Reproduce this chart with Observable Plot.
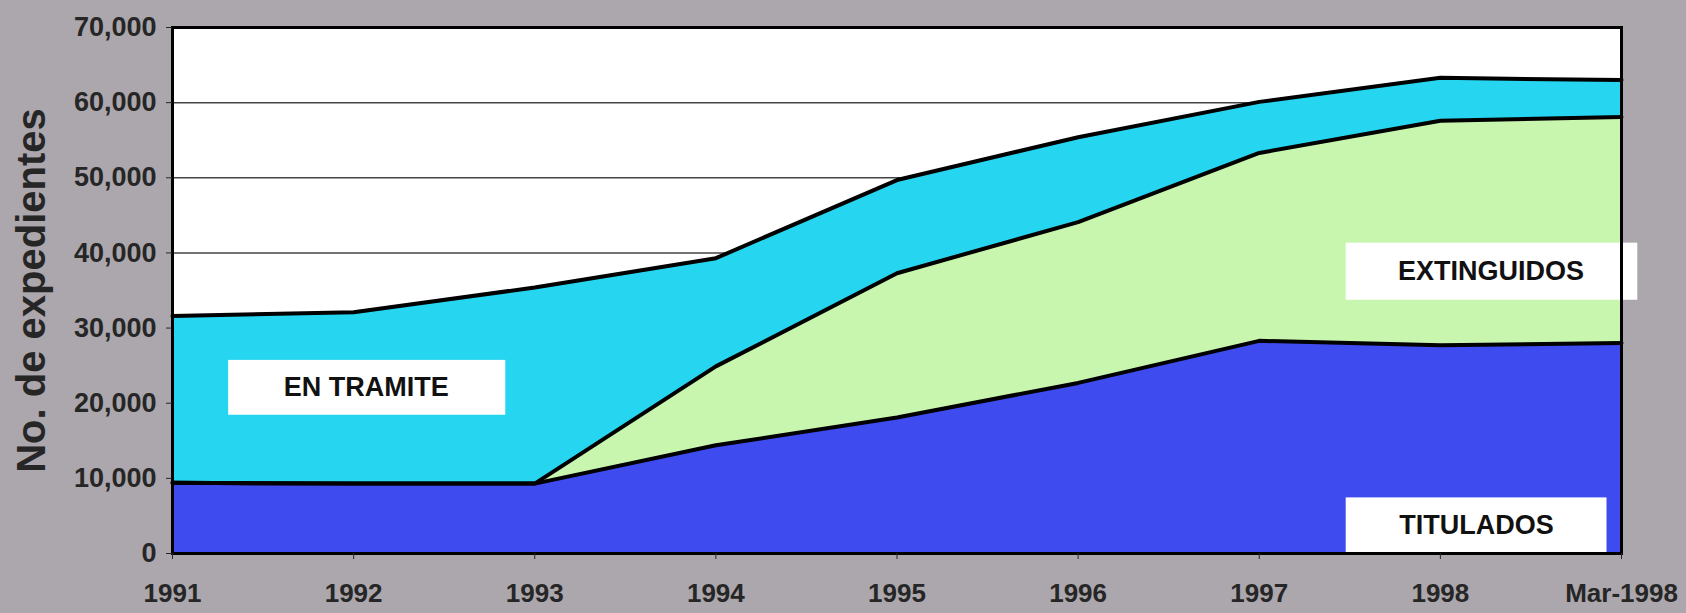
<!DOCTYPE html>
<html>
<head>
<meta charset="utf-8">
<script src="https://cdn.jsdelivr.net/npm/d3@7"></script>
<script src="https://cdn.jsdelivr.net/npm/@observablehq/plot@0.6"></script>
<style>
  html, body { margin: 0; padding: 0; background: #aba7ac; }
  #chart { width: 1686px; height: 613px; }
</style>
</head>
<body>
<div id="chart"></div>
<script>
// Categories (x axis)
const periods = ["1991", "1992", "1993", "1994", "1995", "1996", "1997", "1998", "Mar-1998"];
// Layer values (No. de expedientes), bottom to top
const titulados   = [9400, 9300, 9300, 14400, 18100, 22700, 28300, 27700, 28000];
const extinguidos = [0, 0, 0, 10500, 19200, 21400, 25000, 29900, 30100];
const enTramite   = [22200, 22800, 26100, 14400, 12400, 11300, 6800, 5700, 4900];
// Y ticks
const yTicks = [0, 10000, 20000, 30000, 40000, 50000, 60000, 70000];
// Series labels
const labelNames = ["EN TRAMITE", "EXTINGUIDOS", "TITULADOS"];

const seriesNames = ["TITULADOS", "EXTINGUIDOS", "EN TRAMITE"];
const seriesValues = [titulados, extinguidos, enTramite];
const colors = ["#3d4bef", "#c8f6ae", "#26d6f1"];

// cumulative stack
const rows = [];
const base = periods.map(() => 0);
seriesNames.forEach((s, k) => {
  periods.forEach((p, i) => {
    const y1 = base[i];
    const y2 = y1 + seriesValues[k][i];
    rows.push({series: s, i, y1, y2});
    base[i] = y2;
  });
});

// label boxes (annotation placement in data units)
const labels = [
  {name: labelNames[0], x1: 0.31, x2: 1.84, y1: 18400, y2: 25700, x: 1.07, y: 22050},
  {name: labelNames[1], x1: 6.48, x2: 8.09, y1: 33700, y2: 41300, x: 7.28, y: 37500},
  {name: labelNames[2], x1: 6.48, x2: 7.92, y1: 0,     y2: 7400,  x: 7.20, y: 3700}
];

const font = "'Liberation Sans', Arial, sans-serif";

const chart = Plot.plot({
  width: 1686,
  height: 613,
  marginLeft: 172,
  marginRight: 65,
  marginTop: 27,
  marginBottom: 60,
  style: {background: "transparent", fontFamily: font, fontWeight: "bold", fontSize: "25px", color: "#262626"},
  x: {domain: [0, periods.length - 1], label: null},
  y: {domain: [0, 70000], label: null},
  marks: [
    Plot.frame({fill: "white"}),
    Plot.ruleY(yTicks.slice(1, -1), {stroke: "#444", strokeWidth: 1.5}),
    Plot.areaY(rows, {x: "i", y1: "y1", y2: "y2", z: "series", fill: d => colors[seriesNames.indexOf(d.series)]}),
    Plot.lineY(rows, {x: "i", y: "y2", z: "series", stroke: "black", strokeWidth: 4, strokeLinejoin: "round"}),
    Plot.rect(labels, {x1: "x1", x2: "x2", y1: "y1", y2: "y2", fill: "white"}),
    Plot.text(labels, {x: "x", y: "y", text: "name", fontSize: 27, fontWeight: "bold", fill: "#111"}),
    Plot.frame({stroke: "black", strokeWidth: 3}),
    Plot.axisX({ticks: periods.map((_, i) => i), tickFormat: i => periods[i], tickSize: 6, tickPadding: 24, fontSize: 26, fontWeight: "bold", label: null}),
    Plot.axisY({ticks: yTicks, tickFormat: d3.format(","), tickSize: 6, tickPadding: 10, fontSize: 27, fontWeight: "bold", label: null}),
    Plot.text(["No. de expedientes"], {frameAnchor: "left", dx: -140, rotate: -90, textAnchor: "middle", fontSize: 40, fontWeight: "bold", fill: "#262626"})
  ]
});
document.getElementById("chart").appendChild(chart);
</script>
</body>
</html>
